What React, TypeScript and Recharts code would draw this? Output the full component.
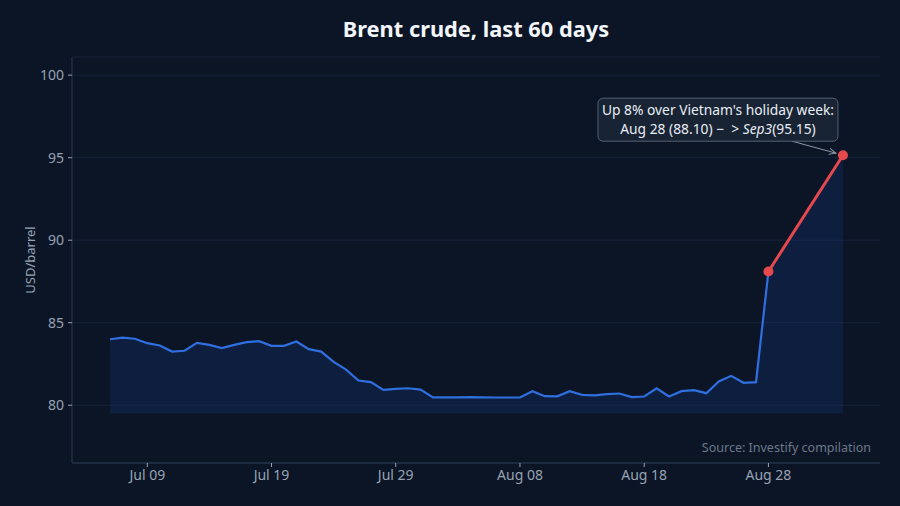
import { Area, CartesianGrid, ComposedChart, Line, XAxis, YAxis } from 'recharts'

const dates = [
  'Jul 06', 'Jul 07', 'Jul 08', 'Jul 09', 'Jul 10', 'Jul 11', 'Jul 12', 'Jul 13', 'Jul 14', 'Jul 15',
  'Jul 16', 'Jul 17', 'Jul 18', 'Jul 19', 'Jul 20', 'Jul 21', 'Jul 22', 'Jul 23', 'Jul 24', 'Jul 25',
  'Jul 26', 'Jul 27', 'Jul 28', 'Jul 29', 'Jul 30', 'Jul 31', 'Aug 01', 'Aug 02', 'Aug 03', 'Aug 04',
  'Aug 05', 'Aug 06', 'Aug 07', 'Aug 08', 'Aug 09', 'Aug 10', 'Aug 11', 'Aug 12', 'Aug 13', 'Aug 14',
  'Aug 15', 'Aug 16', 'Aug 17', 'Aug 18', 'Aug 19', 'Aug 20', 'Aug 21', 'Aug 22', 'Aug 23', 'Aug 24',
  'Aug 25', 'Aug 26', 'Aug 27', 'Aug 28', 'Aug 29', 'Aug 30', 'Aug 31', 'Sep 01', 'Sep 02', 'Sep 03',
]

// null = no quote during the holiday gap
const prices: (number | null)[] = [
  84.0, 84.1, 84.03, 83.76, 83.62, 83.25, 83.3, 83.78, 83.66, 83.46,
  83.66, 83.82, 83.88, 83.6, 83.6, 83.86, 83.4, 83.25, 82.63, 82.16,
  81.5, 81.4, 80.93, 80.99, 81.03, 80.95, 80.48, 80.48, 80.48, 80.49,
  80.48, 80.47, 80.47, 80.47, 80.85, 80.55, 80.54, 80.85, 80.63, 80.6,
  80.67, 80.71, 80.49, 80.53, 81.03, 80.53, 80.85, 80.91, 80.73, 81.44,
  81.78, 81.36, 81.4, 88.1, null, null, null, null, null, 95.15,
]

const holidayIdx = [53, 59]
const xTicks = [3, 13, 23, 33, 43, 53]
const yTicks = [80, 85, 90, 95, 100]

const data = dates.map((date, i) => ({
  i,
  date,
  price: prices[i],
  holiday: holidayIdx.includes(i) ? prices[i] : null,
}))

const BG = '#0b1526'
const TICK = '#97a3b3'
const AXIS = '#2c3a4e'
const FONT = '"Noto Sans", "Open Sans", sans-serif'

function Annotation(props: any) {
  const { x, y, index } = props
  if (index !== holidayIdx[1] || x == null || y == null) return null
  const w = 240
  const h = 43
  const bx = x - 245
  const by = y - 57
  const a = holidayIdx[0]
  const b = holidayIdx[1]
  return (
    <g>
      <defs>
        <marker id="arrowhead" markerWidth="8" markerHeight="8" refX="7" refY="4" orient="auto" markerUnits="userSpaceOnUse">
          <path d="M0,1 L7,4 L0,7" fill="none" stroke="#8a96a6" strokeWidth={1} />
        </marker>
      </defs>
      <line x1={x - 51} y1={y - 14} x2={x - 7} y2={y - 2} stroke="#8a96a6" strokeWidth={1} markerEnd="url(#arrowhead)" />
      <rect x={bx} y={by} width={w} height={h} rx={5} fill="#1a2535" fillOpacity={0.92} stroke="#546173" strokeWidth={1} />
      <text x={bx + w / 2} y={by + 17} textAnchor="middle" fill="#e9eef4" fontSize={13.8} fontFamily={FONT}>
        Up 8% over Vietnam's holiday week:
      </text>
      <text x={bx + w / 2} y={by + 36} textAnchor="middle" fill="#e9eef4" fontSize={13.8} fontFamily={FONT}>
        {`${dates[a]}\u00a0(${prices[a]?.toFixed(2)})\u00a0\u2212\u00a0\u00a0>\u00a0`}
        <tspan fontStyle="italic">Sep3</tspan>
        {`(${prices[b]?.toFixed(2)})`}
      </text>
    </g>
  )
}

export default function App() {
  return (
    <div
      style={{
        position: 'fixed',
        top: 0,
        left: 0,
        width: 900,
        height: 506,
        background: BG,
        fontFamily: FONT,
      }}
    >
      <div
        style={{
          position: 'absolute',
          top: 14,
          left: 0,
          width: 952,
          textAlign: 'center',
          color: '#f3f6fa',
          fontSize: 21.8,
          fontWeight: 700,
        }}
      >
        Brent crude, last 60 days
      </div>
      <div
        style={{
          position: 'absolute',
          left: 30,
          top: 260,
          transform: 'translate(-50%, -50%) rotate(-90deg)',
          color: TICK,
          fontSize: 13,
          whiteSpace: 'nowrap',
        }}
      >
        USD/barrel
      </div>
      <ComposedChart
        width={900}
        height={506}
        data={data}
        margin={{ top: 57, right: 20, bottom: 13, left: 12 }}
      >
        <CartesianGrid vertical={false} stroke="#16233a" strokeWidth={1} />
        <XAxis
          dataKey="i"
          type="number"
          domain={[-3.06, 61.98]}
          allowDataOverflow
          ticks={xTicks}
          tickFormatter={(v: number) => dates[v]}
          height={30}
          tickSize={4}
          tickMargin={3}
          tick={{ fontSize: 14, fill: TICK, fontFamily: FONT }}
          axisLine={{ stroke: AXIS }}
          tickLine={{ stroke: TICK }}
        />
        <YAxis
          type="number"
          domain={[76.5, 101.1]}
          allowDataOverflow
          ticks={yTicks}
          width={60}
          tickSize={4}
          tickMargin={4}
          tick={{ fontSize: 14, fill: TICK, fontFamily: FONT }}
          axisLine={{ stroke: AXIS }}
          tickLine={{ stroke: TICK }}
        />
        <Area
          dataKey="price"
          type="linear"
          baseValue={79.5}
          connectNulls
          stroke="none"
          fill="#2563eb"
          fillOpacity={0.12}
          isAnimationActive={false}
        />
        <Line
          dataKey="price"
          type="linear"
          stroke="#2f6fe0"
          strokeWidth={2.2}
          dot={false}
          activeDot={false}
          isAnimationActive={false}
        />
        <Line
          dataKey="holiday"
          type="linear"
          connectNulls
          stroke="#e5484d"
          strokeWidth={3}
          dot={{ r: 5, fill: '#e5484d', stroke: 'none' }}
          activeDot={false}
          label={Annotation}
          isAnimationActive={false}
        />
      </ComposedChart>
      <div
        style={{
          position: 'absolute',
          right: 29,
          top: 439,
          color: '#6b7889',
          fontSize: 12.5,
          whiteSpace: 'nowrap',
        }}
      >
        Source: Investify compilation
      </div>
    </div>
  )
}
